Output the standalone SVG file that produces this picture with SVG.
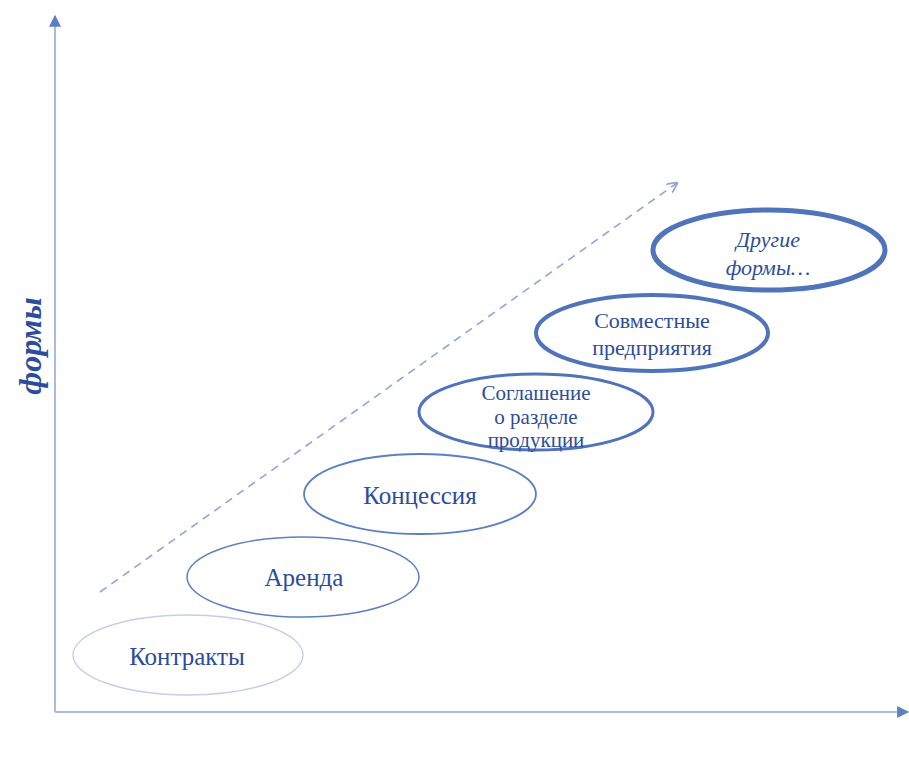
<svg xmlns="http://www.w3.org/2000/svg" width="909" height="782" viewBox="0 0 909 782">
  <style>
    .axis { stroke: #a9bbdf; stroke-width: 2; fill: none; }
    .lbl { font-family: "Liberation Serif", "Times New Roman", serif; fill: #2c4c9c; text-anchor: middle; }
    .oval { fill: #ffffff; }
  </style>
  <defs>
    <marker id="axhead" viewBox="0 0 10 10" refX="9" refY="5" markerWidth="12" markerHeight="12" orient="auto" markerUnits="userSpaceOnUse">
      <path d="M0,0 L10,5 L0,10 Z" fill="#5b7fc0"/>
    </marker>
    <marker id="dashhead" viewBox="0 0 10 10" refX="9" refY="5" markerWidth="11" markerHeight="11" orient="auto" markerUnits="userSpaceOnUse">
      <path d="M0,0 L10,5 L0,10" fill="none" stroke="#90a6d6" stroke-width="1.6"/>
    </marker>
  </defs>
  <rect width="909" height="782" fill="#ffffff"/>

  <!-- axes and trend arrow -->
  <g id="connectors">
    <line class="axis" x1="55" y1="712" x2="55" y2="16" marker-end="url(#axhead)"/>
    <line class="axis" x1="55" y1="712" x2="908" y2="712" marker-end="url(#axhead)"/>
    <line x1="100" y1="592" x2="677" y2="183" stroke="#90a6d6" stroke-width="1.6" stroke-dasharray="8,6" marker-end="url(#dashhead)"/>
  </g>

  <text class="lbl" x="0" y="0" transform="translate(41,346) rotate(-90)" font-size="32" font-weight="bold" font-style="italic">формы</text>

  <g id="n1">
    <ellipse class="oval" cx="188" cy="655" rx="115" ry="40" stroke="#c3cfea" stroke-width="1.4"/>
    <text class="lbl" x="187" y="665" font-size="25">Контракты</text>
  </g>
  <g id="n2">
    <ellipse class="oval" cx="303" cy="577" rx="116" ry="40" stroke="#5b7fc0" stroke-width="1.5"/>
    <text class="lbl" x="304" y="586" font-size="25">Аренда</text>
  </g>
  <g id="n3">
    <ellipse class="oval" cx="420" cy="494" rx="116" ry="40" stroke="#5b7fc0" stroke-width="1.8"/>
    <text class="lbl" x="420" y="504" font-size="25">Концессия</text>
  </g>
  <g id="n4">
    <ellipse class="oval" cx="536" cy="412" rx="117" ry="38" stroke="#4f74b9" stroke-width="3"/>
    <text class="lbl" x="536" y="400" font-size="21">Соглашение</text>
    <text class="lbl" x="536" y="424" font-size="21">о разделе</text>
    <text class="lbl" x="536" y="447" font-size="21">продукции</text>
  </g>
  <g id="n5">
    <ellipse class="oval" cx="652" cy="333" rx="116" ry="38" stroke="#4f74b9" stroke-width="4"/>
    <text class="lbl" x="652" y="328" font-size="22">Совместные</text>
    <text class="lbl" x="652" y="355" font-size="22">предприятия</text>
  </g>
  <g id="n6">
    <ellipse class="oval" cx="769" cy="250" rx="116" ry="40" stroke="#4f74b9" stroke-width="5"/>
    <text class="lbl" x="768" y="247" font-size="22" font-style="italic">Другие</text>
    <text class="lbl" x="768" y="275" font-size="22" font-style="italic">формы…</text>
  </g>
</svg>
